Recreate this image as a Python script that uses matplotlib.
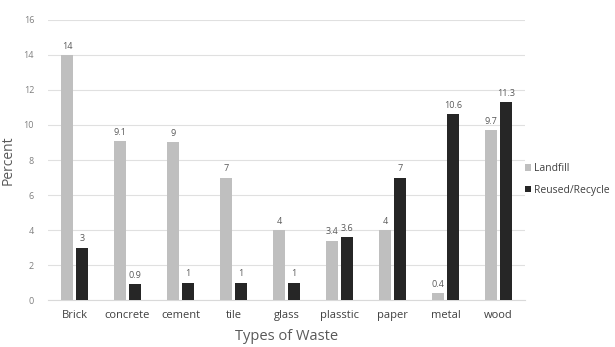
import numpy as np
import matplotlib
matplotlib.use("Agg")
import matplotlib.pyplot as plt

categories = ["Brick", "concrete", "cement", "tile", "glass", "plasstic", "paper", "metal", "wood"]
landfill = [14, 9.1, 9, 7, 4, 3.4, 4, 0.4, 9.7]
recycle = [3, 0.9, 1, 1, 1, 3.6, 7, 10.6, 11.3]
series_names = ["Landfill", "Reused/Recycle"]

plt.rcParams["font.family"] = ["Open Sans", "DejaVu Sans"]

fig = plt.figure(figsize=(6.15, 3.47), dpi=100)
ax = fig.add_axes([0.078, 0.1354, 0.776, 0.807])

x = np.arange(len(categories))
w = 0.23
off = 0.14
b1 = ax.bar(x - off, landfill, w, color="#bfbfbf", label=series_names[0], zorder=3)
b2 = ax.bar(x + off, recycle, w, color="#262626", label=series_names[1], zorder=3)

for bars, vals in ((b1, landfill), (b2, recycle)):
    for rect, v in zip(bars, vals):
        ax.annotate(f"{v:g}", (rect.get_x() + rect.get_width() / 2, v),
                    xytext=(0, 3), textcoords="offset points",
                    ha="center", va="bottom", fontsize=6.5, color="#595959")

ax.set_xlim(-0.5, len(categories) - 0.5)
ax.set_ylim(0, 16)
ax.set_yticks(range(0, 17, 2))
ax.set_xticks(x)
ax.set_xticklabels(categories, fontsize=8, color="#404040")
ax.tick_params(axis="y", labelsize=6.5, colors="#7f7f7f", length=0, pad=10)
ax.tick_params(axis="x", length=0, pad=7)
ax.grid(axis="y", color="#e0e0e0", linewidth=0.8, zorder=0)
for s in ax.spines.values():
    s.set_visible(False)
ax.spines["bottom"].set_visible(True)
ax.spines["bottom"].set_color("#d9d9d9")

ax.set_ylabel("Percent", fontsize=10, color="#595959", labelpad=6)
ax.set_xlabel("Types of Waste", fontsize=10.5, color="#595959", labelpad=6)

fig.legend(handles=[b1, b2], loc="center left", bbox_to_anchor=(0.838, 0.483),
           frameon=False, fontsize=7.5, handlelength=0.6, handleheight=0.6,
           handletextpad=0.3, labelspacing=1.0, labelcolor="#404040")

fig.savefig("out.png", dpi=100)
